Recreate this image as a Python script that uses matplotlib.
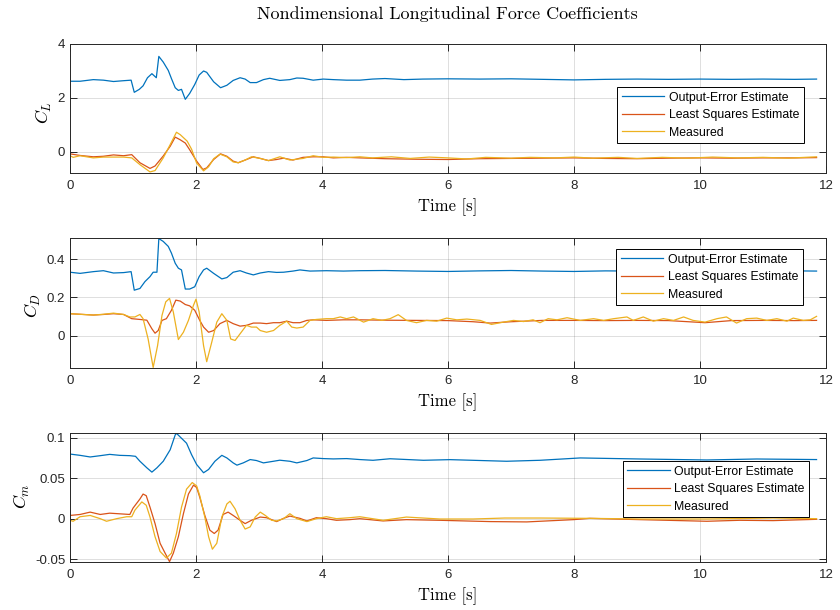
import matplotlib
matplotlib.use('Agg')
import matplotlib.pyplot as plt

# ---------------- data ----------------
series_names = ['Output-Error Estimate', 'Least Squares Estimate', 'Measured']
x_ticks = [0, 2, 4, 6, 8, 10, 12]
x_tick_labels = ['0', '2', '4', '6', '8', '10', '12']

# C_L
t_cl_oe = [0.00, 0.16, 0.37, 0.53, 0.69, 0.85, 0.97, 1.02, 1.10, 1.16,
           1.23, 1.30, 1.37, 1.41, 1.48, 1.56, 1.61, 1.67, 1.72, 1.77,
           1.83, 1.90, 1.98, 2.05, 2.12, 2.17, 2.28, 2.39, 2.49, 2.59,
           2.70, 2.78, 2.86, 2.96, 3.07, 3.17, 3.33, 3.49, 3.60, 3.70,
           3.86, 4.02, 4.18, 4.39, 4.60, 4.80, 5.00, 5.30, 5.60, 6.00,
           6.50, 7.00, 7.50, 8.00, 8.50, 9.00, 9.50, 10.00, 10.50, 11.00,
           11.50, 11.85]
cl_oe = [2.62, 2.62, 2.68, 2.66, 2.61, 2.64, 2.66, 2.21, 2.32, 2.45,
         2.75, 2.90, 2.75, 3.54, 3.33, 3.02, 2.72, 2.38, 2.28, 2.32,
         1.95, 2.17, 2.50, 2.85, 3.00, 2.95, 2.60, 2.38, 2.47, 2.65,
         2.75, 2.70, 2.57, 2.57, 2.68, 2.73, 2.65, 2.68, 2.74, 2.73,
         2.66, 2.70, 2.68, 2.66, 2.66, 2.70, 2.72, 2.68, 2.70, 2.71,
         2.70, 2.71, 2.69, 2.67, 2.69, 2.70, 2.69, 2.70, 2.69, 2.70,
         2.69, 2.70]
t_cl_ls = [0.00, 0.16, 0.37, 0.53, 0.69, 0.85, 0.98, 1.11, 1.27, 1.35,
           1.48, 1.59, 1.67, 1.75, 1.83, 1.90, 2.01, 2.11, 2.17, 2.28,
           2.39, 2.49, 2.59, 2.67, 2.78, 2.91, 3.02, 3.15, 3.28, 3.39,
           3.54, 3.70, 3.86, 4.02, 4.18, 4.39, 4.60, 5.00, 5.50, 6.00,
           6.50, 7.00, 7.50, 8.00, 8.50, 9.00, 9.50, 10.00, 10.50, 11.00,
           11.50, 11.85]
cl_ls = [-0.07, -0.13, -0.18, -0.16, -0.11, -0.14, -0.10, -0.40, -0.61, -0.52,
         -0.15, 0.21, 0.55, 0.45, 0.33, 0.08, -0.34, -0.65, -0.59, -0.28,
         -0.07, -0.16, -0.34, -0.40, -0.30, -0.18, -0.24, -0.32, -0.28, -0.23,
         -0.30, -0.20, -0.18, -0.18, -0.22, -0.20, -0.22, -0.25, -0.27, -0.28,
         -0.25, -0.24, -0.23, -0.22, -0.24, -0.25, -0.23, -0.22, -0.23, -0.22,
         -0.22, -0.21]
t_cl_meas = [0.00, 0.05, 0.16, 0.37, 0.53, 0.69, 0.85, 0.98, 1.11, 1.27,
             1.35, 1.48, 1.59, 1.69, 1.75, 1.86, 1.93, 2.01, 2.12, 2.20,
             2.28, 2.38, 2.49, 2.59, 2.67, 2.78, 2.88, 3.02, 3.15, 3.33,
             3.49, 3.70, 3.86, 4.02, 4.18, 4.39, 4.60, 4.80, 5.10, 5.40,
             5.70, 6.00, 6.30, 6.60, 7.00, 7.30, 7.70, 8.00, 8.30, 8.70,
             9.00, 9.40, 9.80, 10.20, 10.60, 11.00, 11.40, 11.85]
cl_meas = [-0.14, -0.20, -0.14, -0.22, -0.19, -0.19, -0.19, -0.22, -0.47, -0.74,
           -0.69, -0.22, 0.27, 0.73, 0.64, 0.40, 0.10, -0.41, -0.70, -0.55,
           -0.25, -0.08, -0.18, -0.37, -0.40, -0.30, -0.18, -0.24, -0.32, -0.18,
           -0.30, -0.24, -0.14, -0.20, -0.19, -0.21, -0.18, -0.22, -0.18, -0.24,
           -0.19, -0.22, -0.26, -0.20, -0.23, -0.20, -0.22, -0.19, -0.23, -0.20,
           -0.24, -0.20, -0.23, -0.19, -0.22, -0.20, -0.23, -0.18]

# C_D
t_cd_oe = [0.00, 0.16, 0.37, 0.53, 0.69, 0.85, 0.97, 1.02, 1.11, 1.19,
           1.27, 1.32, 1.38, 1.41, 1.48, 1.56, 1.61, 1.67, 1.72, 1.77,
           1.83, 1.90, 1.98, 2.05, 2.12, 2.17, 2.28, 2.41, 2.49, 2.59,
           2.70, 2.80, 2.91, 3.02, 3.15, 3.28, 3.39, 3.54, 3.65, 3.81,
           4.07, 4.34, 4.60, 5.00, 5.50, 6.00, 6.50, 7.00, 7.50, 8.00,
           8.50, 9.00, 9.50, 10.00, 10.50, 11.00, 11.50, 11.85]
cd_oe = [0.331, 0.325, 0.334, 0.339, 0.327, 0.329, 0.334, 0.237, 0.246, 0.282,
         0.308, 0.331, 0.331, 0.507, 0.492, 0.466, 0.431, 0.378, 0.352, 0.343,
         0.243, 0.243, 0.255, 0.308, 0.343, 0.352, 0.325, 0.296, 0.303, 0.331,
         0.339, 0.327, 0.317, 0.327, 0.334, 0.330, 0.331, 0.337, 0.343, 0.337,
         0.339, 0.337, 0.339, 0.340, 0.337, 0.335, 0.338, 0.340, 0.337, 0.335,
         0.338, 0.337, 0.335, 0.336, 0.337, 0.336, 0.338, 0.337]
t_cd_ls = [0.00, 0.16, 0.37, 0.53, 0.69, 0.85, 0.98, 1.11, 1.22, 1.30,
           1.35, 1.40, 1.46, 1.53, 1.61, 1.68, 1.75, 1.83, 1.90, 1.98,
           2.06, 2.12, 2.20, 2.28, 2.38, 2.49, 2.59, 2.70, 2.80, 2.91,
           3.02, 3.12, 3.23, 3.33, 3.44, 3.54, 3.65, 3.76, 3.86, 4.07,
           4.34, 4.60, 5.00, 5.50, 6.00, 6.40, 6.67, 7.00, 7.50, 8.00,
           8.50, 9.00, 9.50, 10.08, 10.50, 11.00, 11.50, 11.85]
cd_ls = [0.114, 0.111, 0.107, 0.110, 0.114, 0.110, 0.088, 0.084, 0.080, 0.035,
         0.012, 0.026, 0.079, 0.088, 0.132, 0.185, 0.180, 0.162, 0.155, 0.132,
         0.079, 0.044, 0.017, 0.026, 0.062, 0.079, 0.062, 0.049, 0.053, 0.065,
         0.065, 0.062, 0.067, 0.067, 0.075, 0.067, 0.067, 0.079, 0.082, 0.079,
         0.082, 0.082, 0.080, 0.079, 0.078, 0.072, 0.065, 0.072, 0.079, 0.079,
         0.078, 0.079, 0.078, 0.067, 0.078, 0.079, 0.078, 0.079]
t_cd_meas = [0.00, 0.16, 0.37, 0.53, 0.69, 0.85, 0.95, 1.03, 1.11, 1.16,
             1.24, 1.32, 1.39, 1.46, 1.52, 1.58, 1.64, 1.72, 1.80, 1.88,
             1.96, 2.00, 2.05, 2.12, 2.17, 2.25, 2.33, 2.41, 2.49, 2.55,
             2.62, 2.70, 2.80, 2.88, 2.96, 3.02, 3.12, 3.23, 3.33, 3.44,
             3.52, 3.60, 3.70, 3.81, 3.91, 4.07, 4.18, 4.29, 4.39, 4.50,
             4.66, 4.81, 4.95, 5.08, 5.21, 5.34, 5.50, 5.66, 5.82, 5.98,
             6.14, 6.30, 6.51, 6.69, 6.88, 7.04, 7.20, 7.35, 7.46, 7.59,
             7.73, 7.89, 8.10, 8.31, 8.47, 8.63, 8.84, 8.94, 9.10, 9.26,
             9.42, 9.58, 9.74, 9.89, 10.08, 10.27, 10.42, 10.58, 10.74, 10.90,
             11.06, 11.22, 11.38, 11.48, 11.64, 11.75, 11.85]
cd_meas = [0.114, 0.111, 0.107, 0.111, 0.117, 0.110, 0.097, 0.097, 0.110, 0.088,
           -0.018, -0.167, -0.053, 0.105, 0.176, 0.194, 0.123, -0.021, 0.017, 0.079,
           0.158, 0.190, 0.123, -0.053, -0.137, -0.035, 0.070, 0.114, 0.079, -0.018,
           -0.026, 0.009, 0.053, 0.044, 0.044, 0.026, 0.017, 0.026, 0.053, 0.075,
           0.044, 0.039, 0.044, 0.079, 0.084, 0.088, 0.088, 0.097, 0.088, 0.097,
           0.070, 0.088, 0.079, 0.088, 0.109, 0.079, 0.067, 0.079, 0.075, 0.091,
           0.082, 0.086, 0.079, 0.058, 0.070, 0.079, 0.073, 0.082, 0.067, 0.088,
           0.082, 0.093, 0.079, 0.088, 0.079, 0.088, 0.097, 0.079, 0.097, 0.075,
           0.088, 0.079, 0.097, 0.079, 0.070, 0.088, 0.097, 0.065, 0.088, 0.091,
           0.079, 0.088, 0.075, 0.091, 0.079, 0.082, 0.100]

# C_m
t_cm_oe = [0.00, 0.16, 0.32, 0.48, 0.63, 0.79, 0.95, 1.04, 1.11, 1.22,
           1.30, 1.38, 1.48, 1.59, 1.67, 1.69, 1.77, 1.85, 1.93, 2.01,
           2.12, 2.20, 2.30, 2.41, 2.49, 2.59, 2.65, 2.75, 2.86, 2.96,
           3.07, 3.23, 3.33, 3.49, 3.60, 3.76, 3.86, 4.02, 4.18, 4.39,
           4.60, 4.81, 5.08, 5.61, 6.03, 6.93, 7.46, 8.10, 9.05, 10.11,
           10.90, 11.85]
cm_oe = [0.0798, 0.0782, 0.0762, 0.0778, 0.0794, 0.0782, 0.0778, 0.0770, 0.0709, 0.0628,
         0.0575, 0.0628, 0.0709, 0.0851, 0.1034, 0.1054, 0.0993, 0.0932, 0.0790, 0.0669,
         0.0567, 0.0608, 0.0709, 0.0782, 0.0750, 0.0689, 0.0661, 0.0689, 0.0730, 0.0718,
         0.0689, 0.0709, 0.0722, 0.0709, 0.0689, 0.0718, 0.0750, 0.0742, 0.0738, 0.0742,
         0.0730, 0.0721, 0.0740, 0.0721, 0.0729, 0.0709, 0.0721, 0.0750, 0.0737, 0.0725,
         0.0737, 0.0730]
t_cm_ls = [0.00, 0.16, 0.32, 0.48, 0.63, 0.79, 0.95, 1.00, 1.11, 1.16,
           1.21, 1.27, 1.35, 1.43, 1.51, 1.58, 1.64, 1.72, 1.80, 1.88,
           1.96, 2.01, 2.06, 2.14, 2.22, 2.29, 2.35, 2.43, 2.51, 2.59,
           2.70, 2.78, 2.88, 3.02, 3.12, 3.28, 3.39, 3.49, 3.65, 3.76,
           3.91, 4.07, 4.23, 4.44, 4.60, 4.97, 5.34, 5.87, 6.67, 7.25,
           7.99, 8.25, 9.05, 10.11, 10.63, 11.16, 11.85]
cm_ls = [0.0040, 0.0052, 0.0081, 0.0052, 0.0068, 0.0060, 0.0052, 0.0130, 0.0243, 0.0304,
         0.0284, 0.0142, -0.0061, -0.0304, -0.0426, -0.0530, -0.0426, -0.0223, 0.0061, 0.0304,
         0.0414, 0.0385, 0.0264, 0.0040, -0.0142, -0.0183, -0.0142, 0.0052, 0.0081, 0.0040,
         -0.0020, -0.0061, -0.0020, 0.0020, 0.0012, -0.0036, 0.0004, 0.0032, 0.0004, -0.0028,
         0.0012, 0.0000, -0.0020, -0.0012, 0.0000, -0.0028, -0.0012, -0.0020, -0.0036, -0.0040,
         -0.0012, 0.0004, -0.0012, -0.0032, -0.0020, -0.0024, -0.0008]
t_cm_meas = [0.00, 0.05, 0.16, 0.32, 0.48, 0.58, 0.74, 0.90, 0.98, 1.03,
             1.14, 1.21, 1.27, 1.35, 1.43, 1.53, 1.61, 1.69, 1.77, 1.85,
             1.94, 2.01, 2.06, 2.14, 2.20, 2.26, 2.33, 2.41, 2.49, 2.54,
             2.62, 2.70, 2.78, 2.86, 2.94, 3.02, 3.10, 3.20, 3.28, 3.39,
             3.49, 3.60, 3.76, 3.91, 4.07, 4.23, 4.44, 4.60, 4.97, 5.34,
             5.87, 6.40, 6.90, 7.46, 8.25, 9.05, 10.11, 11.16, 11.85]
cm_meas = [-0.0020, -0.0032, 0.0024, 0.0040, 0.0000, -0.0032, 0.0000, 0.0024, 0.0024, 0.0105,
           0.0207, 0.0166, 0.0020, -0.0223, -0.0405, -0.0486, -0.0426, -0.0183, 0.0142, 0.0365,
           0.0446, 0.0405, 0.0284, 0.0020, -0.0223, -0.0377, -0.0304, 0.0020, 0.0182, 0.0215,
           0.0122, -0.0020, -0.0128, -0.0101, 0.0020, 0.0081, 0.0040, -0.0020, -0.0028, 0.0000,
           0.0061, 0.0000, -0.0036, 0.0000, 0.0024, 0.0000, 0.0012, 0.0024, -0.0020, 0.0020,
           -0.0004, -0.0004, 0.0008, 0.0008, 0.0004, -0.0004, -0.0004, 0.0008, 0.0000]

cl_yticks, cl_ytick_labels = [0, 2, 4], ['0', '2', '4']
cd_yticks, cd_ytick_labels = [0, 0.2, 0.4], ['0', '0.2', '0.4']
cm_yticks, cm_ytick_labels = [-0.05, 0, 0.05, 0.1], ['-0.05', '0', '0.05', '0.1']

title_text = 'Nondimensional Longitudinal Force Coefficients'
xlabel_text = 'Time [s]'

# ---------------- style ----------------
plt.rcParams['mathtext.fontset'] = 'cm'
plt.rcParams['font.family'] = ['Liberation Sans', 'DejaVu Sans']

c_oe, c_ls, c_meas = '#0072BD', '#D95319', '#EDB120'
dark = '#262626'

fig = plt.figure(figsize=(8.4, 6.1), dpi=100)
W, H = 840.0, 610.0

panels = [
    dict(top=44, bot=173, data=[(t_cl_oe, cl_oe), (t_cl_ls, cl_ls), (t_cl_meas, cl_meas)],
         ylim=(-0.78, 4.0), yt=cl_yticks, ytl=cl_ytick_labels, ylab=r'$C_L$',
         ylab_xy=(43.5, 112), leg=(617, 87)),
    dict(top=238, bot=368, data=[(t_cd_oe, cd_oe), (t_cd_ls, cd_ls), (t_cd_meas, cd_meas)],
         ylim=(-0.17, 0.51), yt=cd_yticks, ytl=cd_ytick_labels, ylab=r'$C_D$',
         ylab_xy=(33, 305), leg=(616, 249)),
    dict(top=433, bot=562, data=[(t_cm_oe, cm_oe), (t_cm_ls, cm_ls), (t_cm_meas, cm_meas)],
         ylim=(-0.0535, 0.1058), yt=cm_yticks, ytl=cm_ytick_labels, ylab=r'$C_m$',
         ylab_xy=(22, 496), leg=(622.5, 461)),
]

x_left, x_right = 70.0, 826.0
for p in panels:
    ax = fig.add_axes([x_left / W, 1 - p['bot'] / H, (x_right - x_left) / W, (p['bot'] - p['top']) / H])
    for (tt, vv), col, name in zip(p['data'], [c_oe, c_ls, c_meas], series_names):
        ax.plot(tt, vv, color=col, lw=0.9, label=name)
    ax.set_xlim(0, 12)
    ax.set_ylim(*p['ylim'])
    ax.set_xticks(x_ticks)
    ax.set_xticklabels(x_tick_labels)
    ax.set_yticks(p['yt'])
    ax.set_yticklabels(p['ytl'])
    ax.grid(True, color=dark, alpha=0.15, lw=0.7)
    ax.set_axisbelow(True)
    for s in ax.spines.values():
        s.set_color(dark)
        s.set_linewidth(0.7)
    ax.tick_params(direction='in', length=5, width=0.7, top=True, right=True,
                   colors=dark, labelcolor=dark, labelsize=9.5)
    ax.tick_params(axis='x', pad=5)
    ax.tick_params(axis='y', pad=3.5)
    # y label
    lx, ly = p['ylab_xy']
    ax.text((lx - x_left) / (x_right - x_left), (p['bot'] - ly) / (p['bot'] - p['top']),
            p['ylab'], transform=ax.transAxes, rotation=90, ha='center', va='center',
            fontsize=13, color='black')
    # x label
    xl_y = p['bot'] + 34
    ax.text(0.5, (p['bot'] - xl_y) / (p['bot'] - p['top']), xlabel_text, transform=ax.transAxes,
            ha='center', va='center', fontsize=12, family='cmr10', color='black')
    # legend
    bx, by = p['leg']
    leg = ax.legend(loc='upper left',
                    bbox_to_anchor=((bx - x_left) / (x_right - x_left), (p['bot'] - by) / (p['bot'] - p['top'])),
                    borderaxespad=0, fontsize=8.8, fancybox=False, edgecolor='black', framealpha=1,
                    handlelength=3.5, handletextpad=0.35, labelspacing=0.45, borderpad=0.38)
    leg.get_frame().set_linewidth(0.7)

fig.text(447.5 / W, 1 - 14 / H, title_text, ha='center', va='center', fontsize=13,
         family='cmr10', color='black')

fig.savefig('out.png', dpi=100)
